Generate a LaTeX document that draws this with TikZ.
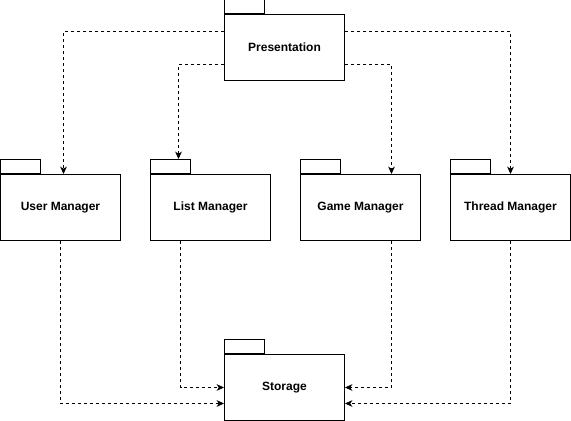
\documentclass[tikz,border=0pt]{standalone}
\usepackage{fontspec}
\setmainfont{Liberation Sans}
\usetikzlibrary{arrows.meta}

\begin{document}
\begin{tikzpicture}
  [x=0.75pt,y=-0.75pt,
   every node/.style={draw,line width=0.75pt,inner sep=0pt},
   pkg/.style={minimum width=90pt,minimum height=49.5pt,font=\fontsize{9}{11}\selectfont\bfseries},
   pkgtab/.style={minimum width=30pt,minimum height=10.5pt,anchor=south west},
   dep/.style={line width=0.75pt,dash pattern=on 2.25pt off 2.25pt,-{Stealth[length=5.5pt,width=5pt,inset=1.5pt]}}]
  \useasboundingbox (-0.5,-0.5) rectangle (570.5,420.5);

  \node[pkg] (pres) at (284,47) {Presentation};
  \node[pkg] (user) at (60,207) {User Manager};
  \node[pkg] (list) at (210,207) {List Manager};
  \node[pkg] (game) at (360,207) {Game Manager};
  \node[pkg] (thread) at (510,207) {Thread Manager};
  \node[pkg] (stor) at (284,387) {Storage};

  \foreach \p in {pres,user,list,game,thread,stor}
    \node[pkgtab] (\p-tab) at (\p.north west) {};

  % presentation uses the managers
  \draw[dep] ([yshift=12pt]pres.west) -| ([xshift=2.25pt]user.north);
  \draw[dep] ([yshift=-12.75pt]pres.west) -| ([xshift=6pt]list-tab.north);
  \draw[dep] ([yshift=-12.75pt]pres.east) -| ([xshift=23.25pt]game.north);
  \draw[dep] ([yshift=12pt]pres.east) -| (thread.north);

  % managers use storage
  \draw[dep] (user.south) |- ([yshift=-12pt]stor.west);
  \draw[dep] ([xshift=-22.5pt]list.south) |- (stor.west);
  \draw[dep] ([xshift=23.25pt]game.south) |- (stor.east);
  \draw[dep] (thread.south) |- ([yshift=-12pt]stor.east);

\end{tikzpicture}
\end{document}
